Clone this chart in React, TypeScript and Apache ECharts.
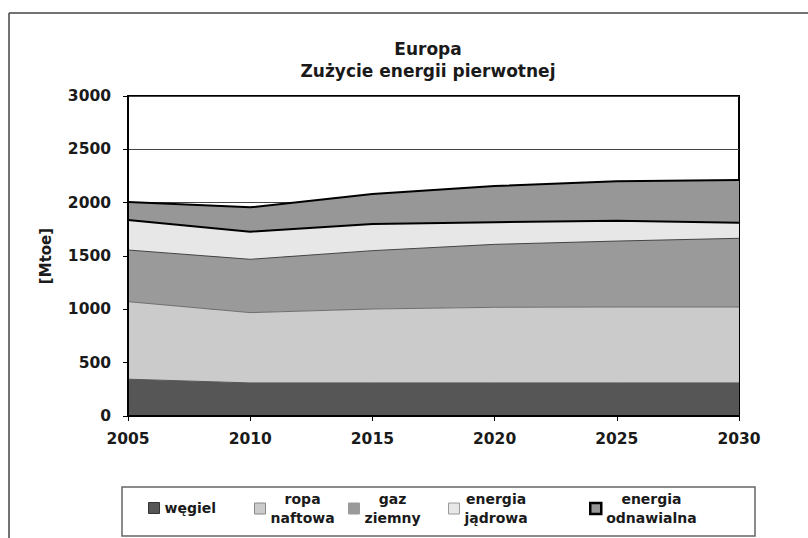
import React, { useEffect, useRef } from "react";
import * as echarts from "echarts";

const years = ["2005", "2010", "2015", "2020", "2025", "2030"];
const coal = [345, 310, 310, 310, 310, 310];
const oil = [727, 659, 693, 709, 712, 712];
const gas = [484, 500, 547, 590, 618, 644];
const nuclear = [281, 259, 250, 207, 191, 146];
const renewable = [169, 228, 281, 340, 369, 400];

const seriesNames = ["węgiel", "ropa naftowa", "gaz ziemny", "energia jądrowa", "energia odnawialna"];
const yTicks = { min: 0, max: 3000, interval: 500 };

const FONT = "DejaVu Sans";
const TXT = "#1a1a1a";

export default function App() {
  const ref = useRef<HTMLDivElement>(null);
  useEffect(() => {
    if (!ref.current) return;
    const chart = echarts.init(ref.current, null, { renderer: "svg" });
    const fills = ["#565656", "#cbcbcb", "#9a9a9a", "#e7e7e7", "#979797"];
    const lines = [
      { color: "#565656", width: 1 },
      { color: "#6e6e6e", width: 1 },
      { color: "#444444", width: 1 },
      { color: "#000000", width: 2 },
      { color: "#000000", width: 2 },
    ];
    const dataSets = [coal, oil, gas, nuclear, renewable];
    const legendBorders = [
      { borderColor: "#333", borderWidth: 1 },
      { borderColor: "#888", borderWidth: 1 },
      { borderColor: "#9a9a9a", borderWidth: 1 },
      { borderColor: "#999", borderWidth: 1 },
      { borderColor: "#000", borderWidth: 2.5 },
    ];
    const legendLefts = [148, 254, 348, 448, 589];
    const rich = {
      c: { align: "center", fontFamily: FONT, fontWeight: "bold", fontSize: 14, lineHeight: 19, color: TXT },
    };
    const legends = seriesNames.map((n, i) => {
      const twoLine = n.includes(" ");
      return {
        show: true,
        selectedMode: false,
        orient: "horizontal",
        left: legendLefts[i],
        top: twoLine ? 492 : 501,
        padding: 0,
        itemWidth: 11,
        itemHeight: 11,
        icon: "rect",
        formatter: (name: string) => name.split(" ").map((p) => `{c|${p}}`).join("\n"),
        textStyle: { fontFamily: FONT, fontWeight: "bold", fontSize: 14, color: TXT, rich },
        data: [{ name: n, icon: "rect", itemStyle: { color: fills[i], ...legendBorders[i] } }],
      };
    });

    const option: any = {
      animation: false,
      backgroundColor: "#ffffff",
      title: {
        text: "Europa\nZużycie energii pierwotnej",
        left: 428,
        top: 38,
        padding: 0,
        textAlign: "center",
        textStyle: { fontFamily: FONT, fontWeight: "bold", fontSize: 17, lineHeight: 22, color: TXT },
      },
      legend: legends,
      grid: {
        left: 128,
        top: 96,
        right: 69,
        bottom: 122,
        show: true,
        borderColor: "#000",
        borderWidth: 2,
        backgroundColor: "transparent",
      },
      xAxis: {
        type: "category",
        data: years,
        boundaryGap: false,
        z: 10,
        axisLine: { show: true, lineStyle: { color: "#000", width: 2 } },
        axisTick: { show: true, length: 5, lineStyle: { color: "#000", width: 1 } },
        axisLabel: { margin: 15, fontFamily: FONT, fontWeight: "bold", fontSize: 15.5, color: TXT },
        splitLine: { show: false },
      },
      yAxis: [
        {
          type: "value",
          min: yTicks.min,
          max: yTicks.max,
          interval: yTicks.interval,
          position: "left",
          name: "[Mtoe]",
          nameLocation: "middle",
          nameRotate: 90,
          nameGap: 75,
          nameTextStyle: { fontFamily: FONT, fontWeight: "bold", fontSize: 15, color: TXT },
          axisLine: { show: false },
          axisTick: { show: true, length: 5, lineStyle: { color: "#000", width: 1 } },
          axisLabel: {
            margin: 17,
            fontFamily: FONT,
            fontWeight: "bold",
            fontSize: 15.5,
            color: TXT,
            formatter: (v: number) => String(v),
          },
          splitLine: { show: true, lineStyle: { color: "#444", width: 1 } },
        },
        {
          type: "value",
          min: yTicks.min,
          max: yTicks.max,
          interval: yTicks.interval,
          position: "left",
          z: 10,
          axisLine: { show: true, lineStyle: { color: "#000", width: 2 } },
          axisTick: { show: false },
          axisLabel: { show: false },
          splitLine: { show: false },
        },
      ],
      series: seriesNames.map((n, i) => ({
        name: n,
        type: "line",
        stack: "total",
        yAxisIndex: 0,
        data: dataSets[i],
        symbol: "none",
        showSymbol: false,
        z: 7 - i,
        itemStyle: { color: fills[i] },
        lineStyle: lines[i],
        areaStyle: { color: fills[i], opacity: 1 },
      })),
      graphic: [
        {
          type: "line",
          silent: true,
          shape: { x1: 9, y1: 13, x2: 808, y2: 13 },
          style: { stroke: "#444", lineWidth: 1.5 },
        },
        {
          type: "line",
          silent: true,
          shape: { x1: 9, y1: 13, x2: 9, y2: 538 },
          style: { stroke: "#444", lineWidth: 1.5 },
        },
        {
          type: "rect",
          silent: true,
          shape: { x: 122, y: 487, width: 633, height: 49 },
          style: { fill: "none", stroke: "#666", lineWidth: 1.5 },
        },
      ],
    };
    chart.setOption(option);
    return () => chart.dispose();
  }, []);
  return (
    <div
      ref={ref}
      style={{ position: "fixed", left: 0, top: 0, width: 808, height: 538, background: "#fff" }}
    />
  );
}
